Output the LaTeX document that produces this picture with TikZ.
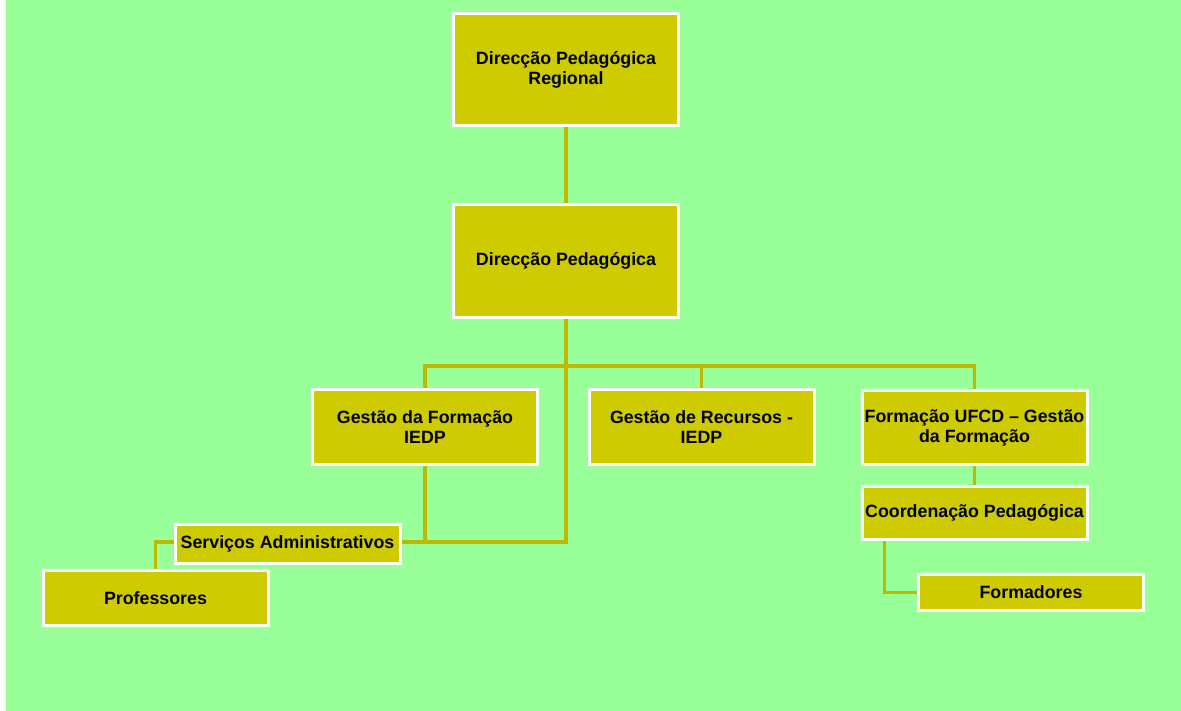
\documentclass[tikz,border=0pt]{standalone}
\usepackage{fontspec}
\setmainfont{Liberation Sans}
\usepackage{xcolor}
\usepackage{tikz}
\usetikzlibrary{positioning}
\usetikzlibrary{backgrounds}
\definecolor{lawn}{RGB}{153,255,153}
\definecolor{mustard}{RGB}{206,204,0}
\definecolor{olive}{RGB}{192,184,0}

\begin{document}
\begin{tikzpicture}[x=1pt,y=-1pt,
  every node/.style = {shape=rectangle, draw=white, line width=3pt,
    fill=mustard, align=center, inner sep=0pt,
    font=\fontsize{17.8}{20}\selectfont\bfseries},
  orgbox/.style = {minimum width=225pt, minimum height=#1},
  link/.style = {draw=olive, line width=3.5pt}]
  \useasboundingbox (0,0) rectangle (1181,711);
  \node[orgbox=112pt] (dpr) at (566,69.5) {Direcção Pedagógica\\Regional};
  \node[orgbox=113pt] (dp) at (566,261) {Direcção Pedagógica};
  \node[orgbox=75pt] (gf) at (425,427) {Gestão da Formação\\IEDP};
  \node[orgbox=75pt] (gr) at (701.5,427) {Gestão de Recursos -\\IEDP};
  \node[orgbox=74pt] (fu) at (974.5,427.5) {Formação UFCD – Gestão\\da Formação};
  \node[orgbox=53pt] (cp) at (974.5,513) {Coordenação Pedagógica};
  \node[orgbox=36pt] (fo) at (1031,592.5) {\hspace*{0pt}Formadores};
  \node[orgbox=39pt] (sa) at (287.5,544) {Serviços Administrativos};
  \node[orgbox=55pt] (pr) at (155.5,598) {Professores};
  \coordinate (bus) at (566,366);
  \begin{pgfonlayer}{background}
    \fill[lawn] (6,0) rectangle (1181,711);
    \draw[link] (dpr.south) -- (dp.north);
    \draw[link] (dp.south) -- (bus) -| (gf.north);
    \draw[link] (bus) -| (gr.north);
    \draw[link] (bus) -| (fu.north);
    \draw[link] (bus) |- ([yshift=2pt]sa.east);
    \draw[link] (gf.south) |- ([yshift=2pt]sa.east);
    \draw[link] ([yshift=2pt]sa.west) -| (pr.north);
    \draw[link] (fu.south) -- (cp.north);
    \draw[link] ([xshift=24pt]cp.south west) |- (fo.west);
  \end{pgfonlayer}
\end{tikzpicture}
\end{document}
